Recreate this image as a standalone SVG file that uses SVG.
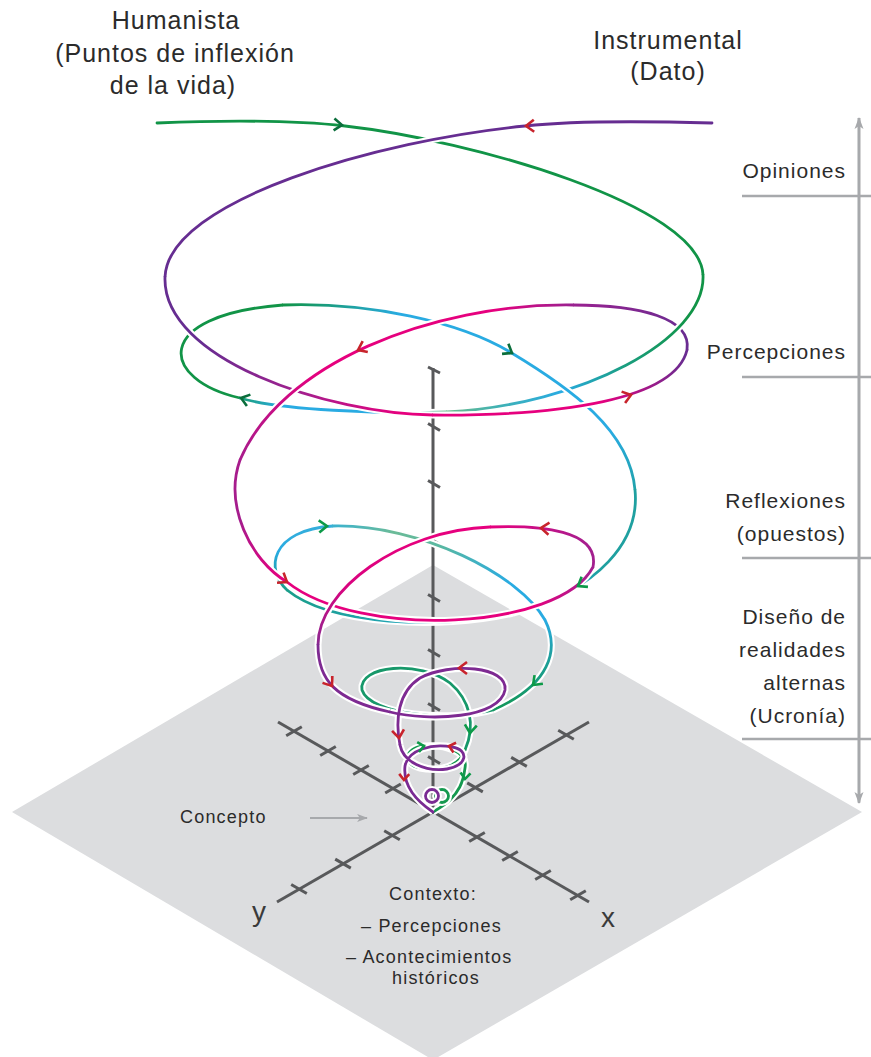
<svg xmlns="http://www.w3.org/2000/svg" xmlns:xlink="http://www.w3.org/1999/xlink" width="871" height="1057" viewBox="0 0 871 1057">
<style>
.t{font-family:"Liberation Sans",Arial,sans-serif;fill:#2b2b2b}
.tl{font-size:25px;letter-spacing:1px;text-anchor:middle}
.tr{font-size:21px;letter-spacing:1px;text-anchor:end}
.tb{font-size:18px;letter-spacing:1.2px}
.txy{font-size:28px;text-anchor:middle;fill:#3a3a3a}
.ax{stroke:#58595b;stroke-width:3;fill:none}
.sc{stroke:#a7a9ac;stroke-width:2.6;fill:none}
.h{fill:none;stroke:#fff;stroke-width:7;stroke-linecap:butt}
.l{fill:none;stroke-width:2.8;stroke-linecap:round}
.cv{fill:none;stroke-width:2.6}
.ag{stroke:#0b6e3c}
.ag2{stroke:#0c9a48}
.ar{stroke:#c8232c}
</style>
<defs>
<path id="chev" d="M-8,-6 L0,0 L-8,6"/>
<path id="chevs" d="M-6,-5 L0,0 L-6,5"/>
<linearGradient id="gG2" gradientUnits="userSpaceOnUse" x1="690" y1="320" x2="447" y2="413"><stop offset="0" stop-color="#119447"/><stop offset="0.3" stop-color="#1a9e80"/><stop offset="0.56" stop-color="#29abe2"/><stop offset="0.8" stop-color="#3fb1b5"/><stop offset="1" stop-color="#6cbb8c"/></linearGradient>
<linearGradient id="gG3" gradientUnits="userSpaceOnUse" x1="447" y1="412" x2="240" y2="398"><stop offset="0" stop-color="#6cbb8c"/><stop offset="0.35" stop-color="#29abe2"/><stop offset="0.8" stop-color="#29abe2"/><stop offset="1" stop-color="#1a9e74"/></linearGradient>
<linearGradient id="gG5a" gradientUnits="userSpaceOnUse" x1="283" y1="305" x2="400" y2="315"><stop offset="0" stop-color="#119447"/><stop offset="1" stop-color="#29abe2"/></linearGradient>
<linearGradient id="gG5b" gradientUnits="userSpaceOnUse" x1="0" y1="430" x2="0" y2="500"><stop offset="0" stop-color="#29abe2"/><stop offset="1" stop-color="#1fa0a0"/></linearGradient>
<linearGradient id="gG5c" gradientUnits="userSpaceOnUse" x1="0" y1="490" x2="0" y2="613"><stop offset="0" stop-color="#1fa0a0"/><stop offset="0.65" stop-color="#1fa0a0"/><stop offset="1" stop-color="#29abe2"/></linearGradient>
<linearGradient id="gG6" gradientUnits="userSpaceOnUse" x1="513" y1="600" x2="287" y2="600"><stop offset="0" stop-color="#29abe2"/><stop offset="1" stop-color="#1a9e8a"/></linearGradient>
<linearGradient id="gG7" gradientUnits="userSpaceOnUse" x1="0" y1="590" x2="0" y2="526"><stop offset="0" stop-color="#1a9e8a"/><stop offset="0.6" stop-color="#29abe2"/><stop offset="1" stop-color="#35aedb"/></linearGradient>
<linearGradient id="gG8" gradientUnits="userSpaceOnUse" x1="333" y1="526" x2="545" y2="620"><stop offset="0" stop-color="#3ab2cf"/><stop offset="0.25" stop-color="#6cbb98"/><stop offset="0.45" stop-color="#5ab8a0"/><stop offset="0.8" stop-color="#29abe2"/><stop offset="1" stop-color="#29abe2"/></linearGradient>
<linearGradient id="gG9" gradientUnits="userSpaceOnUse" x1="0" y1="620" x2="0" y2="708"><stop offset="0" stop-color="#29abe2"/><stop offset="0.4" stop-color="#1fa0a0"/><stop offset="1" stop-color="#13975a"/></linearGradient>
<linearGradient id="gP2" gradientUnits="userSpaceOnUse" x1="200" y1="0" x2="400" y2="0"><stop offset="0" stop-color="#662d91"/><stop offset="0.5" stop-color="#a3208e"/><stop offset="1" stop-color="#e6007e"/></linearGradient>
<linearGradient id="gP3" gradientUnits="userSpaceOnUse" x1="600" y1="0" x2="685" y2="0"><stop offset="0" stop-color="#e6007e"/><stop offset="1" stop-color="#6a2c91"/></linearGradient>
<linearGradient id="gP4" gradientUnits="userSpaceOnUse" x1="687" y1="0" x2="573" y2="0"><stop offset="0" stop-color="#6a2c91"/><stop offset="1" stop-color="#9a2190"/></linearGradient>
<linearGradient id="gP5" gradientUnits="userSpaceOnUse" x1="573" y1="305" x2="240" y2="460"><stop offset="0" stop-color="#9a2190"/><stop offset="0.2" stop-color="#e6007e"/><stop offset="0.7" stop-color="#e6007e"/><stop offset="1" stop-color="#a81c8c"/></linearGradient>
<linearGradient id="gP6" gradientUnits="userSpaceOnUse" x1="0" y1="460" x2="0" y2="582"><stop offset="0" stop-color="#a81c8c"/><stop offset="0.5" stop-color="#a51d8d"/><stop offset="1" stop-color="#e6007e"/></linearGradient>
<linearGradient id="gP7" gradientUnits="userSpaceOnUse" x1="287" y1="0" x2="593" y2="0"><stop offset="0" stop-color="#e6007e"/><stop offset="0.8" stop-color="#e6007e"/><stop offset="1" stop-color="#a3208f"/></linearGradient>
<linearGradient id="gP8" gradientUnits="userSpaceOnUse" x1="593" y1="0" x2="490" y2="0"><stop offset="0" stop-color="#a3208f"/><stop offset="1" stop-color="#e6007e"/></linearGradient>
<linearGradient id="gP9" gradientUnits="userSpaceOnUse" x1="0" y1="540" x2="0" y2="645"><stop offset="0" stop-color="#e6007e"/><stop offset="0.45" stop-color="#d8037f"/><stop offset="1" stop-color="#8a2a92"/></linearGradient>

<path id="g1" d="M157,123 C230,120 300,121 345,126 C470,140 700,205 703,275"/>
<path id="g2" d="M703,275 C706,340 580,405 447,412"/>
<path id="g3" d="M447,412 C380,414 280,410 240,398"/>
<path id="g4" d="M240,398 C160,380 150,315 283,305"/>
<path id="g5a" d="M283,305 C370,302 460,322 510,352"/>
<path id="g5b" d="M510,352 C570,388 630,430 635,490"/>
<path id="g5c" d="M635,490 C640,540 600,590 513,613"/>
<path id="g6" d="M513,613 C440,630 330,625 287,590"/>
<path id="g7" d="M287,590 C265,570 270,530 333,526"/>
<path id="g8" d="M333,526 C420,524 520,575 545,620"/>
<path id="g9" d="M545,620 C560,650 550,685 493,710"/>
<path id="g10" d="M493,710 C450,722 370,715 362,690 C358,665 420,660 450,683 C470,700 476,725 465,750"/>
<path id="g11" d="M465,750 C460,766 440,772 420,768 C402,764 404,748 424,746 C446,744 468,752 465,768 C463,784 458,792 450,800 C445,805 438,809 433,812"/>
<path id="g12" d="M435.5,796 a6.5,6.5 0 1,0 13,0 a6.5,6.5 0 1,0 -13,0"/>
<path id="p1" d="M712,123 C640,121 570,121 525,126 C380,140 168,200 165,277"/>
<path id="p2" d="M165,277 C162,360 330,414 433,415"/>
<path id="p3" d="M433,415 C560,416 675,400 687,350"/>
<path id="p4" d="M687,350 C692,318 640,305 573,305"/>
<path id="p5" d="M573,305 C430,303 280,365 240,460"/>
<path id="p6" d="M240,460 C224,505 250,560 287,582"/>
<path id="p7" d="M287,582 C360,640 560,630 593,567"/>
<path id="p8" d="M593,567 C600,530 540,525 490,527"/>
<path id="p9" d="M490,527 C400,530 318,590 318,645"/>
<path id="p10" d="M318,645 C318,680 335,700 390,712"/>
<path id="p11" d="M390,712 C430,722 500,718 505,690 C508,666 450,662 420,678 C398,692 395,720 400,745"/>
<path id="p12" d="M400,745 C403,762 425,772 447,769 C467,766 470,750 452,747 C432,743 408,750 405,766 C403,784 415,800 433,812"/>
<path id="p13" d="M425.5,796 a6.5,6.5 0 1,0 13,0 a6.5,6.5 0 1,0 -13,0"/>
<marker id="mscale" viewBox="0 0 12 10" refX="11" refY="5" markerWidth="12" markerHeight="10" markerUnits="userSpaceOnUse" orient="auto"><path d="M0,0.5 L12,5 L0,9.5 L3,5 Z" fill="#a7a9ac"/></marker>
<marker id="mcon" viewBox="0 0 12 10" refX="11" refY="5" markerWidth="11" markerHeight="9" markerUnits="userSpaceOnUse" orient="auto"><path d="M0,0.5 L12,5 L0,9.5 L3,5 Z" fill="#a7a9ac"/></marker>
</defs>

<g id="plane"><polygon points="433,565 862,812 433,1060 12,812" fill="#dcdddf"/></g>

<g id="axes">
<line class="ax" x1="278" y1="722" x2="589" y2="902"/>
<line class="ax" x1="589" y1="722" x2="277" y2="902"/>
<line class="ax" x1="433" y1="368" x2="433" y2="812"/>
<path class="ax" d="M428,367 L440,373 M428,423.5 L440,430.5 M428,480.5 L440,487.5 M428,537.5 L440,544.5 M428,594.5 L440,601.5 M428,649.5 L440,656.5 M428,703.5 L440,710.5 M428,756.5 L440,763.5"/>
<path class="ax" d="M286.2,735.8 L301.8,726.8 M320.2,755.5 L335.8,746.5 M353.2,774.5 L368.8,765.5 M385.2,793 L400.8,784 M469.2,841.5 L484.8,832.5 M502.2,860.5 L517.8,851.5 M535.2,879.5 L550.8,870.5 M570.2,899.8 L585.8,890.8"/>
<path class="ax" d="M384.2,830.8 L399.8,839.8 M335.2,859.1 L350.8,868.1 M291.2,884.5 L306.8,893.5 M467.2,782.9 L482.8,791.9 M511.2,757.4 L526.8,766.4 M558.2,730.3 L573.8,739.3"/>
</g>

<g id="scale">
<line class="sc" x1="859" y1="802" x2="859" y2="118" marker-end="url(#mscale)"/>
<line class="sc" x1="859" y1="118" x2="859" y2="803" marker-end="url(#mscale)"/>
<line class="sc" x1="742" y1="196" x2="871" y2="196"/>
<line class="sc" x1="742" y1="377" x2="871" y2="377"/>
<line class="sc" x1="742" y1="558" x2="871" y2="558"/>
<line class="sc" x1="742" y1="739" x2="871" y2="739"/>
</g>

<g id="connectors">
<use href="#g4" class="h"/><use href="#g4" class="l" stroke="#119447"/>
<use href="#g1" class="h"/><use href="#g1" class="l" stroke="#119447"/>
<use href="#g3" class="h"/><use href="#g3" class="l" stroke="url(#gG3)"/>
<use href="#p1" class="h"/><use href="#p1" class="l" stroke="#662d91"/>
<use href="#p2" class="h"/><use href="#p2" class="l" stroke="url(#gP2)"/>
<use href="#p4" class="h"/><use href="#p4" class="l" stroke="url(#gP4)"/>
<use href="#g2" class="h"/><use href="#g2" class="l" stroke="url(#gG2)"/>
<use href="#g5a" class="h"/><use href="#g5a" class="l" stroke="url(#gG5a)"/>
<use href="#g5b" class="h"/><use href="#g5b" class="l" stroke="url(#gG5b)"/>
<use href="#g5c" class="h"/><use href="#g5c" class="l" stroke="url(#gG5c)"/>
<use href="#p3" class="h"/><use href="#p3" class="l" stroke="url(#gP3)"/>
<use href="#g6" class="h"/><use href="#g6" class="l" stroke="url(#gG6)"/>
<use href="#g7" class="h"/><use href="#g7" class="l" stroke="url(#gG7)"/>
<use href="#g8" class="h"/><use href="#g8" class="l" stroke="url(#gG8)"/>
<use href="#g9" class="h"/><use href="#g9" class="l" stroke="url(#gG9)"/>
<use href="#p5" class="h"/><use href="#p5" class="l" stroke="url(#gP5)"/>
<use href="#p6" class="h"/><use href="#p6" class="l" stroke="url(#gP6)"/>
<use href="#p7" class="h"/><use href="#p7" class="l" stroke="url(#gP7)"/>
<use href="#p8" class="h"/><use href="#p8" class="l" stroke="url(#gP8)"/>
<use href="#p9" class="h"/><use href="#p9" class="l" stroke="url(#gP9)"/>
<use href="#g10" class="h"/><use href="#g10" class="l" stroke="#17986a"/>
<use href="#p10" class="h"/><use href="#p10" class="l" stroke="#7e2a92"/>
<use href="#p11" class="h"/><use href="#p11" class="l" stroke="#7e2a92"/>
<use href="#g11" class="h"/><use href="#g11" class="l" stroke="#15994f"/>
<use href="#g12" class="h"/><use href="#g12" class="l" stroke="#15994f"/>
<use href="#p12" class="h"/><use href="#p12" class="l" stroke="#7a2b93"/>
<use href="#p13" class="h"/><use href="#p13" class="l" stroke="#7a2b93"/>
<line x1="310" y1="818" x2="367" y2="818" stroke="#a7a9ac" stroke-width="2" marker-end="url(#mcon)"/>
</g>

<g id="arrowheads">
<use href="#chev" class="cv ag" transform="translate(342,125) rotate(4)"/>
<use href="#chev" class="cv ag" transform="translate(241,398) rotate(197)"/>
<use href="#chev" class="cv ag" transform="translate(512,353) rotate(32)"/>
<use href="#chev" class="cv ag2" transform="translate(578,586) rotate(148)"/>
<use href="#chev" class="cv ag2" transform="translate(327,526) rotate(-3)"/>
<use href="#chev" class="cv ag2" transform="translate(533,685) rotate(136)"/>
<use href="#chev" class="cv ag2" transform="translate(470,733) rotate(96)"/>
<use href="#chevs" class="cv ag2" transform="translate(424,746) rotate(-10)"/>
<use href="#chevs" class="cv ag2" transform="translate(465,779) rotate(95)"/>
<use href="#chev" class="cv ar" transform="translate(526,126) rotate(178)"/>
<use href="#chev" class="cv ar" transform="translate(631,395) rotate(-17)"/>
<use href="#chev" class="cv ar" transform="translate(358,350) rotate(155)"/>
<use href="#chev" class="cv ar" transform="translate(287,582) rotate(33)"/>
<use href="#chev" class="cv ar" transform="translate(541,528) rotate(185)"/>
<use href="#chev" class="cv ar" transform="translate(332,686) rotate(55)"/>
<use href="#chev" class="cv ar" transform="translate(459,668) rotate(180)"/>
<use href="#chev" class="cv ar" transform="translate(399,738) rotate(83)"/>
<use href="#chevs" class="cv ar" transform="translate(449,746) rotate(195)"/>
<use href="#chevs" class="cv ar" transform="translate(404,780) rotate(92)"/>
</g>

<g id="label-humanista" class="t tl">
<text x="176" y="29">Humanista</text>
<text x="175" y="62">(Puntos de inflexión</text>
<text x="173" y="94">de la vida)</text>
</g>
<g id="label-instrumental" class="t tl">
<text x="668" y="49">Instrumental</text>
<text x="668" y="80">(Dato)</text>
</g>
<g id="label-opiniones" class="t tr"><text x="846" y="178">Opiniones</text></g>
<g id="label-percepciones" class="t tr"><text x="846" y="359">Percepciones</text></g>
<g id="label-reflexiones" class="t tr"><text x="846" y="508">Reflexiones</text><text x="846" y="541">(opuestos)</text></g>
<g id="label-diseno" class="t tr"><text x="846" y="624">Diseño de</text><text x="846" y="657">realidades</text><text x="846" y="690">alternas</text><text x="846" y="723">(Ucronía)</text></g>
<g id="label-concepto" class="t tb"><text x="180" y="823">Concepto</text></g>
<g id="label-contexto" class="t tb">
<text x="433" y="900" text-anchor="middle">Contexto:</text>
<text x="361" y="932">– Percepciones</text>
<text x="346" y="963">– Acontecimientos</text>
<text x="436" y="984" text-anchor="middle">históricos</text>
</g>
<g id="label-y" class="t txy"><text x="259" y="921">y</text></g>
<g id="label-x" class="t txy"><text x="608" y="927">x</text></g>
</svg>
